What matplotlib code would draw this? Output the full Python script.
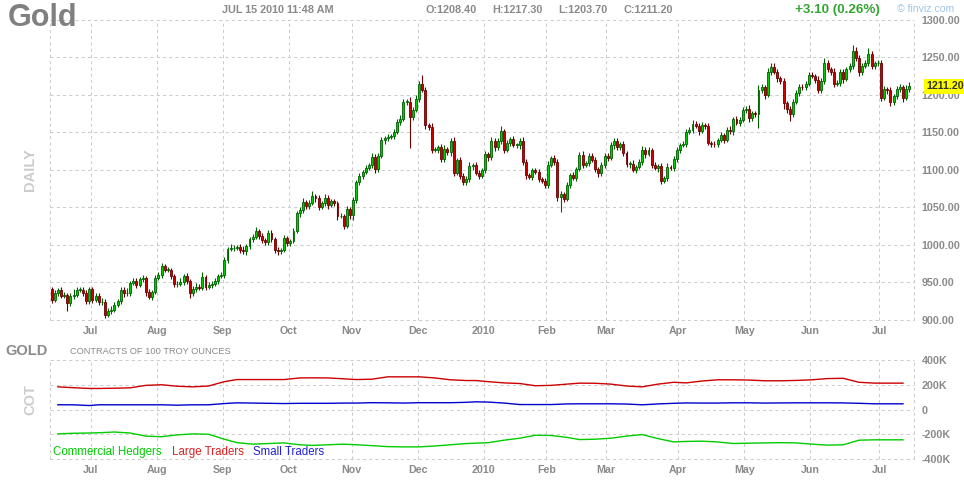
import matplotlib
matplotlib.use('Agg')
import numpy as np
import pandas as pd
import matplotlib.pyplot as plt

plt.rcParams['font.family'] = ['Liberation Sans', 'DejaVu Sans']

# ---- daily gold futures, Jun 12 2009 .. Jul 15 2010 ----
# weekdays with no bar in the feed
no_bar_days = ['2009-07-02', '2009-07-03', '2009-09-07', '2009-10-12', '2009-10-30',
               '2009-12-24', '2009-12-25', '2010-01-01', '2010-02-15', '2010-04-02',
               '2010-07-05']

first_open = 941
closes = [
    926, 935, 939, 932, 933, 922, 931, 933, 940, 940, 936, 925, 941,                          # jun 09
    926, 932, 923, 924, 906, 911, 913, 920, 925, 940, 935, 936, 949, 952, 946, 954, 955,
    937, 930, 937, 956,                                                                      # jul
    960, 971, 966, 966, 958, 947, 948, 950, 958, 951, 935, 941, 944, 942, 957, 944, 946,
    948, 951, 958, 960,                                                                      # aug
    980, 994, 995, 996, 997, 993, 991, 998, 1007, 1010, 1018, 1012, 1006, 1003, 1016,
    1007, 993, 991, 993, 1009, 1002,                                                         # sep
    1005, 1018, 1042, 1046, 1057, 1051, 1056, 1065, 1062, 1050, 1055, 1062, 1053, 1058,
    1055, 1038, 1038, 1025, 1047, 1039,                                                      # oct
    1060, 1083, 1091, 1097, 1103, 1106, 1117, 1101, 1119, 1140, 1142, 1144, 1145, 1151,
    1164, 1168, 1191, 1191, 1171, 1180, 1195,                                                # nov
    1215, 1207, 1160, 1157, 1127, 1127, 1130, 1114, 1128, 1124, 1139, 1096, 1113, 1092,
    1083, 1087, 1105, 1106, 1096, 1092, 1099,                                                # dec
    1121, 1117, 1139, 1130, 1139, 1152, 1127, 1136, 1141, 1133, 1133, 1139, 1110, 1093,
    1090, 1099, 1097, 1087, 1085, 1080,                                                      # jan 10
    1107, 1116, 1110, 1063, 1067, 1061, 1079, 1093, 1089, 1101, 1120, 1107, 1109, 1119,
    1113, 1101, 1095, 1107, 1119,                                                            # feb
    1116, 1133, 1139, 1130, 1134, 1122, 1108, 1108, 1100, 1104, 1110, 1127, 1121, 1126,
    1107, 1102, 1105, 1085, 1089, 1104, 1102, 1114, 1127,                                    # mar
    1133, 1135, 1151, 1153, 1161, 1159, 1152, 1160, 1159, 1136, 1135, 1134, 1140, 1146,
    1140, 1153, 1152, 1168, 1163, 1167, 1180,                                                # apr
    1181, 1169, 1176, 1175, 1207, 1210, 1200, 1231, 1237, 1231, 1222, 1218, 1189, 1181,
    1175, 1191, 1203, 1211, 1210, 1215, 1226,                                                # may
    1225, 1220, 1207, 1218, 1243, 1234, 1231, 1215, 1216, 1231, 1221, 1234, 1238, 1258,
    1249, 1230, 1239, 1242, 1255, 1239, 1242, 1243,                                          # jun
    1196, 1208, 1206, 1191, 1198, 1208, 1210, 1196, 1208.4, 1211.2,                          # jul
]
# wick lengths above max(open, close) and below min(open, close)
up_wick = [
    3, 4, 3, 5, 4, 3, 4, 8, 4, 3, 4, 3, 3,
    3, 4, 3, 5, 3, 4, 5, 3, 3, 4, 3, 6, 3, 3, 4, 3, 5, 3, 4, 3, 4,
    4, 5, 3, 4, 3, 3, 4, 6, 3, 4, 3, 4, 5, 3, 6, 3, 4, 3, 4, 3, 4,
    4, 3, 6, 4, 3, 4, 5, 3, 3, 4, 6, 3, 4, 3, 4, 3, 3, 4, 3, 4, 3,
    3, 4, 3, 4, 5, 3, 4, 6, 3, 4, 3, 5, 4, 3, 3, 3, 4, 3, 4, 3,
    4, 3, 4, 3, 4, 3, 5, 4, 3, 4, 3, 4, 3, 3, 4, 5, 4, 3, 6, 4, 5,
    4, 11, 4, 3, 5, 4, 3, 4, 5, 3, 4, 5, 3, 4, 3, 4, 5, 3, 4, 3, 4,
    4, 3, 5, 4, 3, 6, 3, 4, 3, 4, 3, 3, 5, 4, 3, 4, 3, 4, 3, 4,
    5, 3, 4, 4, 5, 3, 4, 3, 4, 3, 4, 5, 3, 4, 3, 4, 3, 4, 3,
    3, 4, 3, 4, 3, 4, 3, 4, 5, 3, 4, 5, 3, 4, 3, 4, 3, 4, 3, 5, 3, 4, 3,
    3, 4, 3, 4, 5, 4, 3, 4, 3, 4, 3, 4, 3, 4, 3, 4, 5, 3, 4, 3, 4,
    4, 5, 3, 3, 6, 4, 3, 5, 6, 5, 4, 3, 4, 3, 4, 3, 4, 3, 4, 3, 4,
    4, 3, 5, 4, 6, 4, 3, 5, 4, 3, 4, 3, 5, 8, 6, 4, 3, 4, 7, 4, 3, 4,
    3, 4, 3, 4, 3, 4, 5, 3, 5, 6.1,
]
down_wick = [
    4, 3, 4, 3, 3, 10, 4, 3, 3, 3, 4, 4, 4,
    4, 3, 4, 3, 4, 3, 4, 3, 3, 4, 5, 3, 4, 3, 4, 3, 4, 5, 3, 4, 3,
    3, 4, 3, 3, 4, 3, 4, 3, 4, 3, 6, 3, 4, 3, 3, 5, 3, 4, 3, 4, 3,
    5, 4, 3, 4, 3, 4, 3, 5, 4, 3, 3, 5, 4, 3, 4, 3, 4, 5, 4, 3, 4,
    4, 3, 3, 5, 4, 3, 4, 3, 5, 4, 3, 4, 6, 3, 3, 5, 3, 4, 3, 5,
    6, 4, 3, 4, 3, 4, 3, 6, 4, 3, 6, 3, 3, 4, 3, 4, 3, 4, 42, 4, 3,
    4, 3, 6, 4, 4, 3, 5, 4, 3, 4, 5, 4, 3, 5, 4, 3, 4, 5, 3, 4, 3,
    3, 5, 4, 5, 3, 4, 5, 3, 4, 3, 4, 5, 4, 5, 3, 4, 3, 4, 3, 5,
    4, 3, 4, 5, 19, 4, 3, 4, 3, 4, 3, 4, 3, 4, 3, 4, 5, 3, 4,
    4, 3, 5, 3, 4, 3, 4, 5, 3, 4, 3, 4, 5, 3, 4, 3, 5, 4, 3, 4, 3, 4, 3,
    4, 3, 4, 3, 4, 3, 5, 3, 4, 3, 4, 3, 4, 3, 4, 3, 4, 5, 3, 4, 3,
    4, 5, 4, 4, 19, 4, 5, 3, 4, 3, 5, 4, 8, 5, 10, 4, 3, 4, 3, 4, 3,
    3, 4, 5, 4, 3, 4, 5, 4, 3, 4, 5, 3, 4, 3, 4, 5, 4, 3, 4, 5, 4, 3,
    4, 3, 5, 6, 4, 3, 4, 5, 3, 4.7,
]

# ---- weekly COT positions (thousands of contracts) ----
cot_start = '2009-06-16'
large_traders = [183, 176, 170, 170, 172, 175, 195, 200, 188, 183, 190, 225, 242, 242, 242,
                 242, 255, 256, 255, 248, 242, 245, 264, 264, 264, 255, 240, 234, 234, 225,
                 215, 210, 192, 195, 205, 213, 212, 205, 190, 183, 205, 220, 215, 230, 240,
                 240, 238, 232, 232, 235, 240, 250, 252, 220, 213, 213, 213]
small_traders = [38, 38, 32, 38, 38, 38, 38, 38, 35, 38, 38, 48, 54, 52, 50, 48, 50, 50, 50,
                 52, 52, 55, 54, 52, 55, 55, 55, 58, 62, 60, 52, 40, 40, 40, 45, 46, 46, 46,
                 44, 38, 45, 50, 53, 52, 52, 54, 54, 52, 53, 54, 54, 54, 53, 50, 46, 46, 46]
commercial = [-197, -192, -190, -188, -182, -190, -215, -220, -205, -197, -200, -240, -268,
              -280, -275, -270, -285, -290, -285, -280, -285, -292, -300, -302, -302, -295,
              -285, -275, -272, -268, -248, -232, -208, -210, -225, -243, -240, -232, -215,
              -203, -235, -262, -258, -256, -262, -275, -272, -270, -268, -270, -280, -288,
              -285, -248, -245, -245, -245]

days = pd.bdate_range('2009-06-12', '2010-07-15')
days = days[~days.isin(pd.to_datetime(no_bar_days))]
n = len(days)
assert len(closes) == n and len(up_wick) == n and len(down_wick) == n

c = np.array(closes, dtype=float)
o = np.concatenate([[first_open], c[:-1]])
hi = np.maximum(o, c) + np.array(up_wick)
lo = np.minimum(o, c) - np.array(down_wick)
x = np.arange(n)
up = c >= o

W, H = 964, 480
fig = plt.figure(figsize=(W / 100, H / 100), dpi=100)
fig.patch.set_facecolor('white')

def px_axes(l, t, r, b):
    return fig.add_axes([l / W, 1 - b / H, (r - l) / W, (b - t) / H])

ax = px_axes(50, 20, 914, 319.5)
cax = px_axes(50, 360, 914, 459)

grid_kw = dict(color='#cccccc', linestyle=(0, (3, 3)), linewidth=0.75, zorder=0, clip_on=False)
lab_color = '#8a8a8a'

# month starts (gridline on the left edge of the month's first bar)
month_idx = [i for i in range(1, n) if days[i].month != days[i - 1].month]
month_pos = [i - 0.5 for i in month_idx]
month_lab = ['2010' if days[i].month == 1 else days[i].strftime('%b') for i in month_idx]

xlim = (-0.5, n + 0.5)
for a in (ax, cax):
    for s in a.spines.values():
        s.set_visible(False)
    a.set_xlim(*xlim)
    for p in month_pos:
        a.axvline(p, **grid_kw)
    a.axvline(xlim[0], **grid_kw)
    a.axvline(xlim[1], **grid_kw)
    a.set_xticks(month_pos)
    a.set_xticklabels(month_lab, fontweight='bold', fontsize=7.7, color=lab_color)
    a.tick_params(axis='x', length=0, pad=4.5)
    a.yaxis.tick_right()
    a.tick_params(axis='y', length=0, pad=5.5)

# ---- candles ----
ax.set_ylim(900, 1300)
yt = np.arange(900, 1301, 50)
for y in yt:
    ax.axhline(y, **grid_kw)
ax.set_yticks(yt)
ax.set_yticklabels(['%.2f' % v for v in yt], fontweight='bold', fontsize=7.7, color=lab_color)

g_fill, g_edge = '#00cc00', '#006000'
r_fill, r_edge = '#cc0000', '#6a0000'
ax.vlines(x[up], lo[up], hi[up], color=g_edge, linewidth=0.8, zorder=2)
ax.vlines(x[~up], lo[~up], hi[~up], color=r_edge, linewidth=0.8, zorder=2)
body_h = np.maximum(np.abs(c - o), 0.8)
ax.bar(x[up], body_h[up], bottom=np.minimum(o, c)[up], width=0.62,
       color=g_fill, edgecolor=g_edge, linewidth=0.6, zorder=3)
ax.bar(x[~up], body_h[~up], bottom=np.minimum(o, c)[~up], width=0.62,
       color=r_fill, edgecolor=r_edge, linewidth=0.6, zorder=3)

ax.annotate('%.2f' % c[-1], xy=(1.0, c[-1]), xycoords=('axes fraction', 'data'),
            xytext=(9, 0), textcoords='offset points', ha='left', va='center',
            fontsize=7.7, fontweight='bold', color='#333333', annotation_clip=False,
            bbox=dict(boxstyle='square,pad=0.25', fc='#ffff00', ec='none'), zorder=5)

# ---- COT ----
cax.set_ylim(-400, 400)
ct = [-400, -200, 0, 200, 400]
for y in ct:
    cax.axhline(y, **grid_kw)
cax.set_yticks(ct)
cax.set_yticklabels(['%dK' % v if v else '0' for v in ct], fontweight='bold',
                    fontsize=7.7, color=lab_color)
weeks = pd.date_range(cot_start, periods=len(large_traders), freq='7D')
wx = days.searchsorted(weeks)
cax.plot(wx, large_traders, color='#cc0000', linewidth=1.0, zorder=3)
cax.plot(wx, small_traders, color='#0000cc', linewidth=1.0, zorder=3)
cax.plot(wx, commercial, color='#00cc00', linewidth=1.0, zorder=3)

def ftext(px, py, s, **kw):
    fig.text(px / W, 1 - py / H, s, **kw)

ftext(8, 18, 'Gold', fontsize=22, fontweight='bold', color='#808080', va='center')
hdr = dict(fontsize=7.8, fontweight='bold', color='#8a8a8a', va='center')
ftext(222, 10, 'JUL 15 2010 11:48 AM', **hdr)
ftext(425, 10, 'O:1208.40', **hdr)
ftext(492, 10, 'H:1217.30', **hdr)
ftext(558, 10, 'L:1203.70', **hdr)
ftext(624, 10, 'C:1211.20', **hdr)
ftext(795, 10, '+3.10 (0.26%)', fontsize=9.7, fontweight='bold', color='#33a533', va='center')
ftext(897, 9, '\u00a9 finviz.com', fontsize=7.6, color='#9cc6ea', va='center')
ftext(30, 170, 'DAILY', fontsize=10.5, fontweight='bold', color='#cccccc', rotation=90,
      ha='center', va='center')
ftext(5, 351, 'GOLD', fontsize=10.5, fontweight='bold', color='#8a8a8a', va='center')
ftext(70, 352, 'CONTRACTS OF 100 TROY OUNCES', fontsize=6.7, color='#8a8a8a', va='center')
ftext(30, 400, 'COT', fontsize=10.5, fontweight='bold', color='#cccccc', rotation=90,
      ha='center', va='center')
ftext(53, 452, 'Commercial Hedgers', fontsize=8.3, color='#00cc00', va='center')
ftext(172, 452, 'Large Traders', fontsize=8.3, color='#dd2020', va='center')
ftext(253, 452, 'Small Traders', fontsize=8.3, color='#2020dd', va='center')

fig.savefig('out.png', dpi=100, facecolor='white')
